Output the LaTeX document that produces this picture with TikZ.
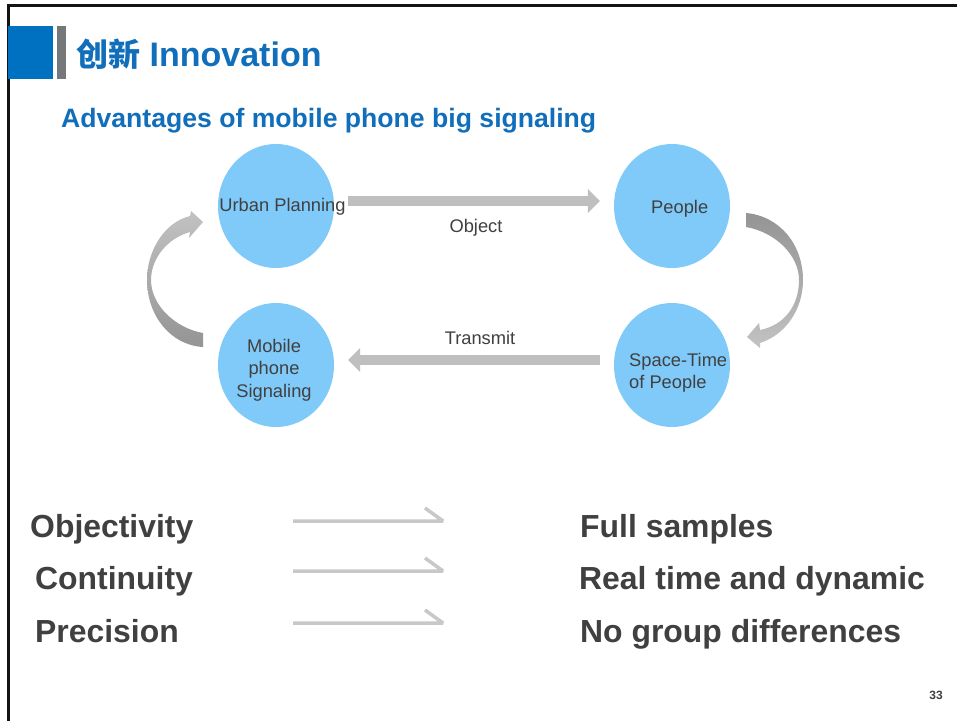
\documentclass[tikz,border=0pt]{standalone}
\usepackage{fontspec}
\setmainfont{Liberation Sans}
\newfontfamily\cjk{Noto Sans CJK SC}
\usetikzlibrary{arrows.meta,shapes.geometric}
\definecolor{titleblue}{RGB}{16,110,186}
\definecolor{barblue}{RGB}{0,112,192}
\definecolor{bargray}{RGB}{117,120,123}
\definecolor{circfill}{RGB}{128,202,250}
\definecolor{arrowgray}{RGB}{191,191,191}
\definecolor{thingray}{RGB}{200,200,200}
\definecolor{textgray}{RGB}{64,64,64}
\definecolor{lightg}{RGB}{194,194,194}
\definecolor{darkg}{RGB}{148,148,148}
\begin{document}
\begin{tikzpicture}[x=1pt,y=-1pt,
  bubble/.style={ellipse,fill=circfill,draw=none,minimum width=116pt,minimum height=124pt,inner sep=0pt},
  lbl/.style={text=textgray,font=\fontsize{18.3}{22}\selectfont,inner sep=0pt},
  blockarr/.style={draw=arrowgray,line width=10pt,-{Triangle[length=12pt,width=24pt,line width=0pt]}},
  thinarr/.style={draw=thingray,line width=3.5pt,line join=bevel},
  big/.style={text=textgray,font=\bfseries\fontsize{31.9}{36}\selectfont,anchor=base west,inner sep=0pt}]
\useasboundingbox (0,0) rectangle (957,721);
\fill[white] (0,0) rectangle (957,721);
% frame
\draw[line width=3pt,black!92,line join=miter] (8.5,721) -- (8.5,5) -- (957,5);
% header bars
\fill[barblue] (8,26) rectangle (53,79);
\fill[bargray] (57,26) rectangle (66,79);
\node[anchor=base west,inner sep=0pt,text=titleblue,font=\bfseries\fontsize{34}{40}\selectfont] (title) at (76,66) {{\cjk\fontsize{32}{40}\selectfont 创新} Innovation};
\node[anchor=base west,inner sep=0pt,text=titleblue,font=\bfseries\fontsize{26.6}{30}\selectfont] (subtitle) at (61,127) {Advantages of mobile phone big signaling};
% circles
\node[bubble] (up) at (276,206) {};
\node[bubble] (people) at (672,206) {};
\node[bubble] (mob) at (276,365) {};
\node[bubble] (st) at (672,365) {};
\node[lbl,anchor=base] (upt) at (282.5,211) {Urban Planning};
\node[lbl,anchor=base west] (peoplet) at (651,213) {People};
\node[lbl,anchor=base,align=center,font=\fontsize{18.3}{22.5}\selectfont] (mobt) at (274,397) {Mobile\\phone\\Signaling};
\node[lbl,anchor=base west,align=left,font=\fontsize{18.3}{21.5}\selectfont] (stt) at (629,388) {Space-Time\\of People};
% straight block arrows
\draw[blockarr] ([shift={(14,-5)}]up.east) -- ([shift={(-14,-5)}]people.west);
\draw[blockarr] ([shift={(-14,-5)}]st.west) -- ([shift={(14,-5)}]mob.east);
\node[lbl,anchor=base] (objt) at (476,232) {Object};
\node[lbl,anchor=base] (trt) at (480,344) {Transmit};
% curved arrows
\path[shade,top color=lightg,bottom color=darkg]
  (203,347) -- (203,333) .. controls (175,328) and (151,305) .. (151,280)
  .. controls (151,258) and (168,238) .. (190,232) -- (189,238) -- (203,222) -- (191,211) -- (190,216)
  .. controls (165,222) and (147,250) .. (147,280)
  .. controls (147,315) and (170,345) .. (203,347) -- cycle;
\path[shade,top color=darkg,bottom color=lightg]
  (746,213) -- (746,227) .. controls (775,232) and (799,255) .. (799,280)
  .. controls (799,305) and (785,325) .. (760,330) -- (759,323) -- (747,337) -- (760,348) -- (760,343)
  .. controls (785,335) and (803,310) .. (803,280)
  .. controls (803,245) and (780,216) .. (746,213) -- cycle;
% bottom list
\node[big] (l1) at (30,537) {Objectivity};
\node[big] (l2) at (35,589) {Continuity};
\node[big] (l3) at (35,642) {Precision};
\node[big] (r1) at (580,537) {Full samples};
\node[big] (r2) at (579,589) {Real time and dynamic};
\node[big] (r3) at (580,642) {No group differences};
\coordinate (a1s) at (293,521); \coordinate (a1e) at (443,521);
\coordinate (a2s) at (293,571); \coordinate (a2e) at (443,571);
\coordinate (a3s) at (293,623); \coordinate (a3e) at (443,623);
\draw[thinarr] (a1s) -- (a1e) -- ++(-18,-13);
\draw[thinarr] (a2s) -- (a2e) -- ++(-18,-13);
\draw[thinarr] (a3s) -- (a3e) -- ++(-18,-13);
% page number
\node[anchor=base east,inner sep=0pt,text=textgray,font=\bfseries\fontsize{12}{14}\selectfont] (pg) at (943,699) {33};
\end{tikzpicture}
\end{document}
